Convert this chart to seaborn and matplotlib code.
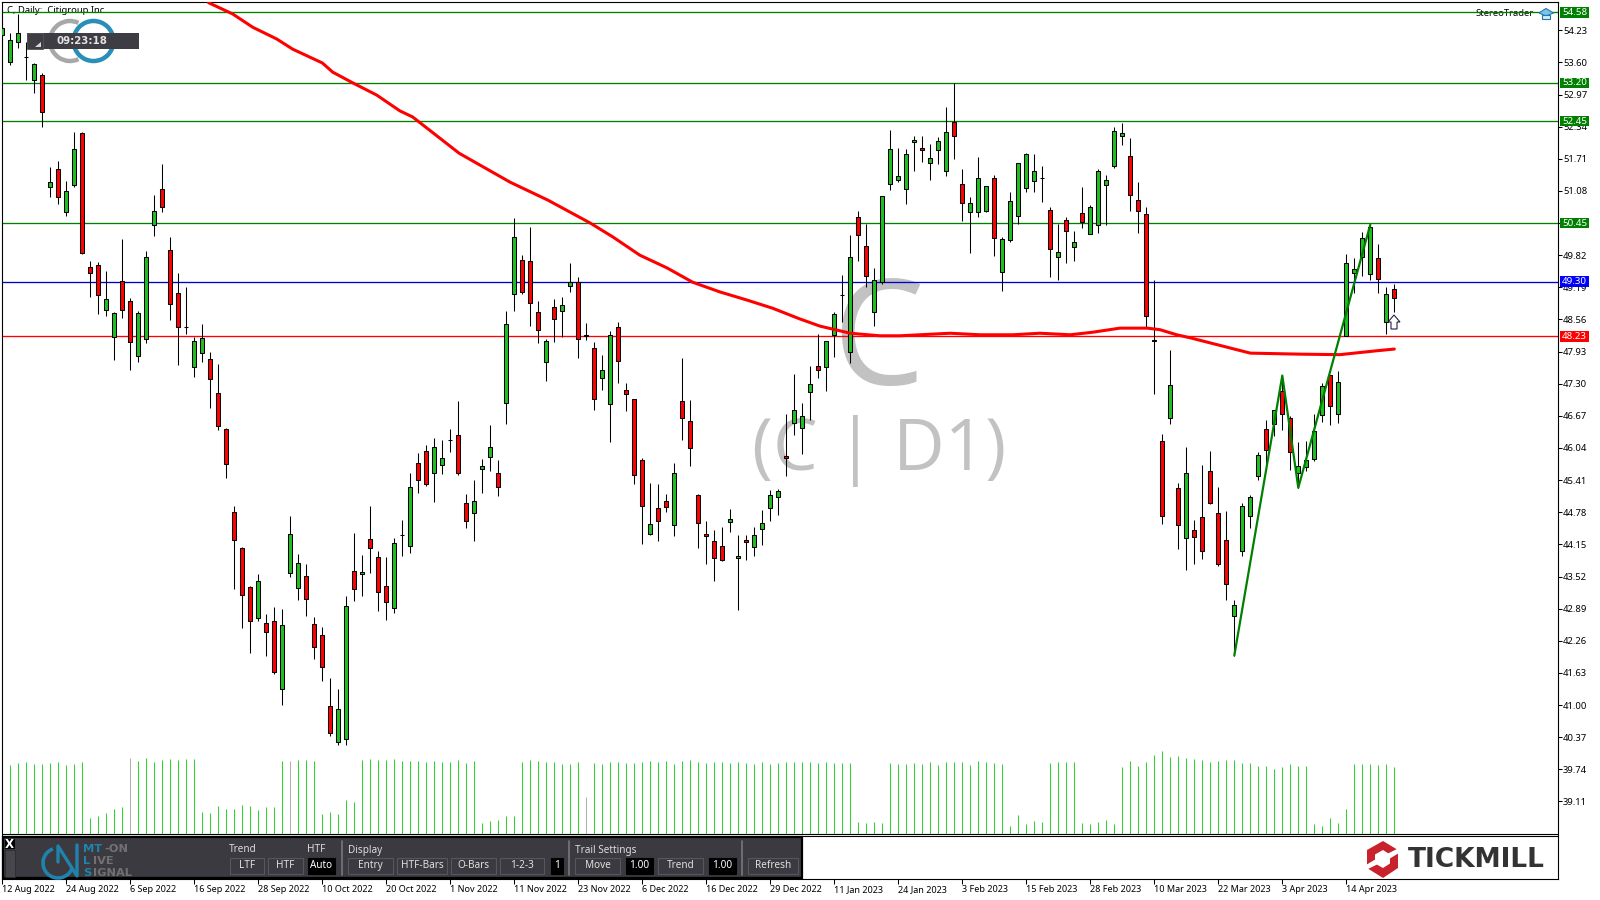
import matplotlib
matplotlib.use("Agg")
import matplotlib.pyplot as plt
from matplotlib.patches import Rectangle, Arc, Polygon
import numpy as np
import pandas as pd
import seaborn as sns

# daily bars of C
bar_high = [54.37,54.17,54.55,54.01,53.58,53.39,51.54,51.66,51.27,52.23,
 52.23,49.70,49.68,49.52,48.70,50.13,48.99,48.72,49.91,51.00,
 51.61,50.17,49.48,49.20,48.22,48.47,47.93,47.69,46.44,44.91,
 44.10,43.34,43.57,42.79,42.93,42.89,44.71,43.96,43.76,42.73,
 42.53,41.53,41.31,43.14,44.38,43.95,44.91,44.02,43.91,44.28,
 44.63,45.55,45.95,46.10,46.24,46.20,46.42,46.97,45.14,45.42,
 45.83,46.50,45.81,48.73,50.54,49.83,50.38,48.93,48.18,48.97,
 49.01,49.66,49.40,48.50,48.11,47.87,48.34,48.52,47.32,47.01,
 45.85,45.36,45.34,45.14,45.75,47.81,46.99,45.14,44.61,44.43,
 44.49,44.85,44.33,44.33,44.49,44.83,45.21,45.24,46.71,47.50,
 46.93,47.65,48.28,48.13,48.71,49.44,50.21,50.68,50.44,49.56,
 50.99,52.27,51.93,51.91,52.15,52.15,52.01,52.13,52.72,53.20,
 51.52,50.97,51.74,51.17,51.40,50.17,51.05,51.62,51.83,51.80,
 51.56,50.77,50.44,50.56,50.30,51.15,50.81,51.52,51.40,52.34,
 52.42,52.11,51.25,50.77,49.34,46.31,47.96,45.36,46.05,44.63,
 45.71,45.99,45.28,44.81,43.06,44.97,45.12,45.97,46.59,46.79,
 47.46,46.67,46.16,46.18,46.71,47.32,47.48,47.54,49.85,49.77,
 50.27,50.42,50.03,49.19,49.26]
body_top = [54.27,54.03,54.17,53.71,53.56,53.35,51.26,51.52,51.07,51.91,
 52.21,49.58,49.62,48.96,48.69,49.32,48.93,48.68,49.79,50.68,
 51.11,49.93,49.07,48.41,48.13,48.20,47.79,47.12,46.42,44.79,
 44.08,43.32,43.43,42.61,42.65,42.57,44.36,43.79,43.53,42.59,
 42.37,40.98,40.92,42.94,43.63,43.61,44.26,43.91,43.34,44.18,
 44.33,45.28,45.75,45.99,46.05,45.85,46.20,46.30,44.97,45.00,
 45.69,46.05,45.54,48.48,50.17,49.73,49.71,48.71,48.13,48.81,
 48.85,49.30,49.30,48.26,48.01,47.56,48.26,48.42,47.18,47.01,
 45.81,44.55,44.87,45.00,45.54,46.97,46.56,45.12,44.36,44.22,
 44.12,44.65,43.92,44.24,44.33,44.57,45.12,45.20,45.89,46.79,
 46.67,47.30,47.65,48.13,48.67,49.04,49.79,50.56,50.01,49.34,
 50.99,51.91,51.38,51.81,52.07,51.93,51.72,52.05,52.23,52.44,
 51.21,50.85,51.33,51.17,51.33,50.13,50.89,51.62,51.80,51.48,
 51.34,50.70,49.89,50.52,50.07,50.64,50.77,51.48,51.29,52.25,
 52.21,51.76,50.91,50.62,48.16,46.18,47.28,45.26,45.54,44.43,
 44.69,45.59,44.77,44.24,42.96,44.91,45.08,45.91,46.42,46.79,
 47.16,46.63,45.69,45.81,46.38,47.26,47.48,47.34,49.66,49.54,
 50.15,50.38,49.77,49.05,49.15]
body_bottom = [54.14,53.60,54.01,53.71,53.25,52.62,51.16,50.97,50.66,51.20,
 49.87,49.48,49.03,48.75,48.22,48.75,48.11,47.85,48.18,50.42,
 50.76,48.87,48.42,48.41,47.62,47.91,47.40,46.47,45.73,44.24,
 43.16,42.65,42.71,42.43,41.65,41.31,43.59,43.30,43.08,42.14,
 41.75,40.45,40.27,40.33,43.28,43.57,44.08,43.22,43.03,42.90,
 44.33,44.12,45.42,45.34,45.54,45.71,46.20,45.54,44.61,44.77,
 45.63,45.87,45.28,46.93,49.05,49.09,48.89,48.36,47.73,48.56,
 48.73,49.22,48.18,48.23,47.01,47.42,46.91,47.75,47.10,45.51,
 44.91,44.36,44.61,44.89,44.53,46.63,46.03,44.57,44.32,43.89,
 43.85,44.59,43.89,44.20,44.10,44.46,44.87,45.08,45.85,46.53,
 46.44,47.14,47.56,47.63,48.26,49.04,47.93,50.21,49.42,48.71,
 49.30,51.21,51.30,51.11,52.03,51.89,51.62,51.89,51.48,52.15,
 50.85,50.66,50.66,50.68,50.15,49.50,50.11,50.58,51.13,51.27,
 51.34,49.95,49.79,50.30,49.99,50.48,50.23,50.42,51.19,51.56,
 52.15,51.01,50.68,48.62,48.13,44.71,46.63,44.53,44.28,44.30,
 44.02,44.97,43.77,43.38,42.75,44.02,44.71,45.50,46.01,46.52,
 46.71,45.97,45.55,45.67,45.83,46.69,46.87,46.71,48.24,49.48,
 49.79,49.46,49.36,48.52,48.99]
bar_low = [54.04,53.54,53.88,53.25,53.01,52.34,50.96,50.82,50.59,51.16,
 49.85,49.00,48.67,48.63,47.77,48.59,47.57,47.73,48.10,50.20,
 50.67,48.55,47.67,48.27,47.43,47.73,46.82,46.39,45.45,43.27,
 42.52,42.03,42.64,41.97,41.60,41.01,43.51,43.06,42.74,41.90,
 41.48,40.39,40.21,40.21,43.04,43.13,43.59,42.84,42.66,42.80,
 43.92,43.98,45.16,45.29,44.98,45.53,45.96,45.51,44.47,44.22,
 45.16,45.59,45.10,46.51,48.73,49.06,48.43,48.10,47.35,48.12,
 48.22,49.10,47.80,48.16,46.78,47.18,46.16,47.31,46.76,45.33,
 44.15,44.33,44.21,44.78,44.31,46.20,45.69,44.07,43.76,43.43,
 43.83,44.39,42.86,43.84,43.92,44.13,44.61,44.73,45.49,46.29,
 45.93,46.58,47.41,47.16,47.82,48.51,47.71,49.71,49.20,48.43,
 49.26,51.10,51.26,50.83,51.48,51.64,51.30,51.60,51.38,51.70,
 50.49,49.87,50.57,50.66,49.81,49.12,50.07,50.44,51.06,51.06,
 50.87,49.39,49.33,49.67,49.71,50.36,50.23,50.26,50.42,51.53,
 51.99,50.69,50.26,48.40,47.10,44.55,46.51,44.06,43.64,43.76,
 43.86,44.94,43.72,43.06,41.97,43.92,44.47,45.42,45.73,46.27,
 46.39,45.61,45.26,45.59,45.79,46.55,46.50,46.53,48.24,49.07,
 49.42,49.34,49.07,48.27,48.71]
down_bars = [5,7,10,11,12,15,16,20,21,22,26,27,28,29,30,31,33,34,38,39,40,41,44,46,47,48,
 52,53,57,58,62,65,66,67,69,72,74,77,78,79,80,82,83,85,86,87,88,89,90,93,98,102,107,108,
 115,119,120,124,131,133,135,141,142,143,144,145,147,149,150,151,152,153,158,160,161,166,172,174]
doji_bars = [3,23,50,56,105,130]

# bottom indicator histogram (arbitrary units)
indicator = [0,208,214,217,212,211,214,217,208,211,217,48,55,63,75,82,
 229,220,229,217,223,226,223,226,226,67,64,85,76,76,88,85,73,82,82,
 220,220,223,223,220,61,67,61,103,97,
 223,226,223,223,226,220,220,220,217,220,217,217,223,214,220,34,40,43,54,55,
 217,223,220,217,217,211,211,217,113,
 214,212,217,217,214,214,217,220,217,220,211,220,223,217,214,217,217,214,217,214,211,217,211,214,217,217,
 217,217,214,217,214,214,214,37,34,37,34,
 214,211,211,214,211,217,208,217,217,217,208,220,217,214,211,25,58,31,40,37,
 214,217,217,217,34,31,37,43,31,
 202,220,205,217,238,250,232,235,229,226,223,217,220,223,223,214,214,205,205,196,202,211,205,205,
 31,25,49,34,76,211,211,211,208,211,202]
grey_indicator = [16,36,73]

# 200 day moving average, sampled along the curve
ma_bar = [25.8,28.8,31.3,34.3,36.3,40,41.3,43.8,46.8,49.7,51.3,57.1,63.5,68.2,73.5,76.3,79.7,83.1,86.3,
 89.7,93.1,96.3,99.7,102.2,106,109.7,112.2,114.7,118.5,122.2,126.3,129.7,133.5,136.3,139.7,143.1,
 144.7,146.8,148.5,153.5,156,162.2,167.2,171.4,174]
ma_value = [54.77,54.55,54.29,54.06,53.86,53.59,53.41,53.20,52.96,52.65,52.53,51.82,51.25,50.90,50.45,50.18,
 49.82,49.57,49.29,49.10,48.94,48.78,48.57,48.43,48.29,48.24,48.24,48.26,48.29,48.26,48.26,48.29,
 48.26,48.31,48.39,48.39,48.36,48.26,48.20,48.00,47.90,47.88,47.87,47.94,47.98]

zigzag_bar = [154,160,162,171]
zigzag_value = [41.97,47.46,45.26,50.42]

level_green = [54.58,53.20,52.45,50.45]
level_blue = 49.30
level_red = 48.23

price_ticks = [54.23,53.60,52.97,52.34,51.71,51.08,50.45,49.82,49.19,48.56,47.93,47.30,46.67,46.04,45.41,
 44.78,44.15,43.52,42.89,42.26,41.63,41.00,40.37,39.74,39.11]
date_labels = ["12 Aug 2022","24 Aug 2022","6 Sep 2022","16 Sep 2022","28 Sep 2022","10 Oct 2022","20 Oct 2022",
 "1 Nov 2022","11 Nov 2022","23 Nov 2022","6 Dec 2022","16 Dec 2022","29 Dec 2022","11 Jan 2023","24 Jan 2023",
 "3 Feb 2023","15 Feb 2023","28 Feb 2023","10 Mar 2023","22 Mar 2023","3 Apr 2023","14 Apr 2023"]

sns.set_theme(style="white")
plt.rcParams["font.family"] = ["Noto Sans", "DejaVu Sans"]

GREEN = "#22bf22"
LEVEL_GREEN = "#008000"
WATERMARK = "#c2c2c2"
W, H = 1600.0, 900.0

bars = pd.DataFrame({"high": bar_high, "top": body_top, "bottom": body_bottom, "low": bar_low})
bars["bar"] = np.arange(len(bars))
bars["color"] = GREEN
bars.loc[down_bars, "color"] = "#ff0000"
bars.loc[doji_bars, "color"] = "black"

fig = plt.figure(figsize=(16, 9), dpi=100, facecolor="white")


def box(x0, y0, x1, y1):
    return [x0 / W, 1 - y1 / H, (x1 - x0) / W, (y1 - y0) / H]


# layer under the candles
back = fig.add_axes([0, 0, 1, 1], zorder=0)
back.set_xlim(0, W)
back.set_ylim(H, 0)
back.axis("off")
back.text(878, 385.5, "C", fontsize=105, color=WATERMARK, family="Open Sans", ha="center", va="baseline")
back.text(752, 470, "(C | D1)", fontsize=51, color=WATERMARK, family="Open Sans", ha="left", va="baseline")
back.text(7, 10.5, "C, Daily:  Citigroup Inc.", fontsize=6.8, color="black", va="center")
back.text(1534, 14, "StereoTrader", fontsize=6.8, color="black", ha="right", va="center")

# indicator pane
vol = fig.add_axes(box(2.3, 740, 1557.5, 834.3), zorder=1)
vol.patch.set_visible(False)
vol.axis("off")
vol.set_xlim(0, 194.4)
vol.set_ylim(0, 283)
vol_colors = ["#b0b0b0" if i in grey_indicator else "#32d032" for i in range(len(indicator))]
vol.vlines(np.arange(len(indicator)), 0, indicator, colors=vol_colors, lw=0.75)

# price pane
ax = fig.add_axes(box(2.3, 2.3, 1557.5, 879), zorder=2)
ax.patch.set_visible(False)
ax.set_xlim(0, 194.4)
ax.set_ylim(54.58 - (879 - 12.45) / 51.0, 54.58 + (12.45 - 2.3) / 51.0)

for lv in level_green:
    ax.axhline(lv, color=LEVEL_GREEN, lw=0.95, zorder=1)
ax.axhline(level_blue, color="#0000d0", lw=0.95, zorder=1)
ax.axhline(level_red, color="#ff0000", lw=0.95, zorder=1)

ax.vlines(bars["bar"], bars["low"], bars["high"], colors="black", lw=0.75, zorder=3)
ax.bar(bars["bar"], bars["top"] - bars["bottom"], bottom=bars["bottom"], width=0.52,
       color=bars["color"], edgecolor="black", linewidth=0.75, zorder=4)

sns.lineplot(x=ma_bar, y=ma_value, color="#ff0000", lw=2.2, ax=ax, zorder=5, sort=False)
sns.lineplot(x=zigzag_bar, y=zigzag_value, color=LEVEL_GREEN, lw=1.6, ax=ax, zorder=6, sort=False)

ax.yaxis.tick_right()
ax.set_yticks(price_ticks)
ax.set_yticklabels([f"{p:.2f}" for p in price_ticks], fontsize=6.8, color="black")
ax.set_xticks(np.arange(len(date_labels)) * 8)
ax.set_xticklabels(date_labels, fontsize=6.5, color="black", ha="left")
ax.tick_params(axis="y", length=3, width=0.75, pad=1, color="black", right=True, left=False)
ax.tick_params(axis="x", length=3.5, width=0.75, pad=1, color="black", bottom=True)
for sp in ax.spines.values():
    sp.set_visible(True)
    sp.set_color("black")
    sp.set_linewidth(0.8)
ax.set_xlabel("")
ax.set_ylabel("")

# layer on top: panel, labels, logos
top = fig.add_axes([0, 0, 1, 1], zorder=5)
top.patch.set_visible(False)
top.set_xlim(0, W)
top.set_ylim(H, 0)
top.axis("off")

# price level tags
for lv, col in [(v, LEVEL_GREEN) for v in level_green] + [(level_blue, "#0000ff"), (level_red, "#ff0000")]:
    y = 12.45 + (54.58 - lv) * 51.0
    top.add_patch(Rectangle((1560, y - 5.3), 29, 10.6, fc=col, ec="none"))
    top.text(1574.5, y, f"{lv:.2f}", color="white", fontsize=7.0, ha="center", va="center")

# double rule between pane and footer
top.plot([2.3, 1557.5], [834.4, 834.4], color="black", lw=0.8)
top.plot([2.3, 1557.5], [836.4, 836.4], color="black", lw=0.8)

# footer panel
PANEL = "#3b3a40"
BLUE_LOGO = "#1f83ad"
GREY_LOGO = "#717175"
top.add_patch(Rectangle((3, 837), 799, 41, fc=PANEL, ec="black", lw=1.6))
top.add_patch(Rectangle((4.5, 850), 10, 27, fc="#47464c", ec="#2c2b30", lw=0.6))
top.add_patch(Rectangle((4.5, 839), 10, 10, fc="black", ec="none"))
top.text(9.5, 844, "X", color="white", fontsize=8.5, ha="center", va="center", fontweight="bold", family="DejaVu Sans")

top.add_patch(Arc((58, 863), 30, 30, theta1=20, theta2=250, ec=BLUE_LOGO, lw=2.6))
top.plot([58, 58, 77, 77], [862, 846, 876, 845], color=BLUE_LOGO, lw=2.4)
top.text(83, 849, "MT", color=BLUE_LOGO, fontsize=8.2, fontweight="bold", family="DejaVu Sans", va="center")
top.text(104, 849, "-ON", color=GREY_LOGO, fontsize=8.2, fontweight="bold", family="DejaVu Sans", va="center")
top.text(83, 861, "L", color=BLUE_LOGO, fontsize=8.2, fontweight="bold", family="DejaVu Sans", va="center")
top.text(93, 861, "IVE", color=GREY_LOGO, fontsize=8.2, fontweight="bold", family="DejaVu Sans", va="center")
top.text(83, 872.5, "S", color=BLUE_LOGO, fontsize=8.2, fontweight="bold", family="DejaVu Sans", va="center")
top.text(93.5, 872.5, "IGNAL", color=GREY_LOGO, fontsize=8.2, fontweight="bold", family="DejaVu Sans", va="center")

for txt, xx in [("Trend", 229), ("HTF", 307), ("Display", 348), ("Trail Settings", 575)]:
    top.text(xx, 850, txt, color="#dcdcdc", fontsize=7.2, va="center")

buttons = [("LTF", 229.6, 264, 0), ("HTF", 268, 303, 0), ("Auto", 308, 335, 1), ("Entry", 348, 393, 0),
           ("HTF-Bars", 397, 447, 0), ("O-Bars", 451, 496, 0), ("1-2-3", 500, 544, 0), ("1", 551, 563, 1),
           ("Move", 575, 620, 0), ("1.00", 625.5, 653, 1), ("Trend", 658, 703, 0), ("1.00", 709, 736, 1),
           ("Refresh", 748, 798, 0)]
for txt, x0, x1, dark in buttons:
    fc = "black" if dark else PANEL
    ec = "black" if dark else "#56565c"
    top.add_patch(Rectangle((x0, 858), x1 - x0, 15.5, fc=fc, ec=ec, lw=0.8))
    top.text((x0 + x1) / 2, 865.8, txt, color="white" if dark else "#e0e0e0", fontsize=7.2, ha="center", va="center")
for xx in [342, 569, 742]:
    top.plot([xx, xx], [841, 875], color="#77777c", lw=1.2)

# Tickmill logo
top.add_patch(Polygon([(1383, 841), (1398, 850), (1398, 868), (1383, 878), (1367, 868), (1367, 850)], fc="#c8232c", ec="none"))
top.add_patch(Polygon([(1383, 850), (1390, 854.5), (1390, 863.5), (1383, 868), (1375, 863.5), (1375, 854.5)], fc="white", ec="none"))
top.add_patch(Polygon([(1387, 854), (1399, 848), (1399, 853), (1389, 859)], fc="white", ec="none"))
top.add_patch(Polygon([(1378, 864), (1366, 870), (1366, 865), (1376, 859)], fc="white", ec="none"))
top.text(1476.5, 859.7, "TICKMILL", fontsize=19, color="#333333", family="DejaVu Sans", fontweight="bold", ha="center", va="center")

# clock widget and ring logo
top.add_patch(Arc((70, 41), 40, 40, theta1=65, theta2=295, ec="#a8a8a8", lw=3.2))
top.add_patch(Arc((93.5, 41), 40, 40, theta1=0, theta2=360, ec="#2a8fb8", lw=3.2))
top.add_patch(Rectangle((27, 33), 112, 16, fc="#3e3d44", ec="none"))
top.add_patch(Rectangle((27, 33), 15.5, 16, fc="#3e3d44", ec="#55555a", lw=0.6))
top.add_patch(Polygon([(35, 47), (41, 47), (41, 42)], fc="#d8d8d8", ec="none"))
top.text(82, 41, "09:23:18", color="#e4e4e4", fontsize=7.4, fontweight="bold", family="DejaVu Sans", ha="center", va="center")

# StereoTrader hat
top.add_patch(Polygon([(1539, 13), (1546, 8.5), (1553.5, 13), (1546, 16)], fc="#7fc4e6", ec="#1f78b4", lw=0.8))
top.add_patch(Polygon([(1542, 15), (1550, 15), (1550, 19), (1542, 19)], fc="#d6ecf7", ec="#1f78b4", lw=0.8))

# entry arrow by the last bar
top.add_patch(Polygon([(1394, 315), (1400, 322), (1397, 322), (1397, 329), (1391, 329), (1391, 322), (1388, 322)],
                      fc="white", ec="#222244", lw=0.8))

fig.savefig("out.png", dpi=100)
